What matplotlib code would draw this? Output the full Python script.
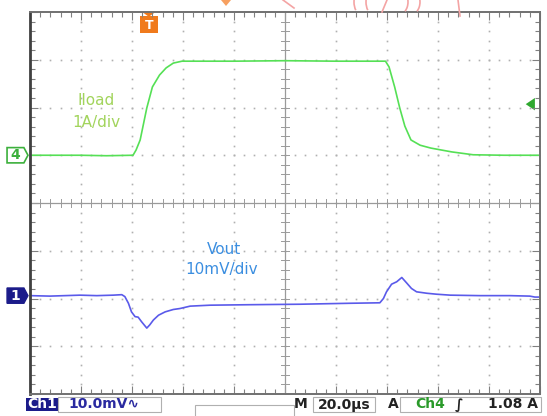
import numpy as np
from matplotlib import pyplot as plt
from matplotlib.patches import Polygon, Rectangle, Arc

# Trace data in screen divisions (x: 0..10 div, y: -4..4 div, centre = 0)
iload_x = [0.0, 0.98, 1.5, 2.02, 2.08, 2.16, 2.29, 2.40, 2.54, 2.67, 2.81, 2.98,
           4.0, 5.0, 6.0, 6.97, 7.04, 7.15, 7.25, 7.35, 7.47, 7.65, 7.86, 8.27,
           8.69, 9.3, 10.0]
iload_y = [1.0, 1.0, 0.99, 1.0, 1.11, 1.32, 1.99, 2.43, 2.68, 2.83, 2.93, 2.97,
           2.97, 2.98, 2.97, 2.97, 2.85, 2.43, 1.99, 1.61, 1.32, 1.21, 1.15, 1.07,
           1.01, 1.0, 1.0]

vout_x = [0.0, 0.39, 0.98, 1.31, 1.63, 1.80, 1.86, 1.93, 1.99, 2.06, 2.12, 2.19,
          2.29, 2.35, 2.42, 2.52, 2.65, 2.81, 2.94, 3.14, 3.53, 4.31, 5.29, 6.27,
          6.86, 6.93, 6.99, 7.09, 7.19, 7.29, 7.39, 7.48, 7.58, 7.78, 7.97, 8.24,
          8.82, 9.41, 9.80, 9.90, 10.0]
vout_y = [-1.94, -1.95, -1.93, -1.94, -1.93, -1.92, -1.96, -2.10, -2.28, -2.38,
          -2.39, -2.49, -2.62, -2.55, -2.45, -2.35, -2.28, -2.23, -2.21, -2.16,
          -2.14, -2.13, -2.12, -2.10, -2.09, -2.00, -1.86, -1.70, -1.65, -1.56,
          -1.68, -1.79, -1.86, -1.89, -1.91, -1.93, -1.94, -1.94, -1.95, -1.97,
          -1.97]

# Status bar strings
ch1_scale = '10.0mV'
time_scale = '20.0\u00b5s'
trig_src = 'Ch4'
trig_level = '1.08 A'

W, H = 547, 416
fig = plt.figure(figsize=(W / 100, H / 100), dpi=100)
fig.patch.set_facecolor('white')
ax = fig.add_axes([30 / W, 1 - 394 / H, 510 / W, 382 / H])
ax.set_xlim(0, 10)
ax.set_ylim(-4, 4)

# dotted graticule
minor = np.round(np.arange(0.2, 10, 0.2), 2)
minor_y = np.round(np.arange(-3.8, 4, 0.2), 2)
for gx in range(1, 10):
    if gx == 5:
        continue
    ax.plot(np.full(len(minor_y), gx), minor_y, ls='', marker='s', ms=1.2, color='#b0b0b0', mew=0)
for gy in range(-3, 4):
    if gy == 0:
        continue
    ax.plot(minor, np.full(len(minor), gy), ls='', marker='s', ms=1.2, color='#b0b0b0', mew=0)

# centre cross with ticks
ax.axhline(0, color='#9a9a9a', lw=0.9)
ax.axvline(5, color='#9a9a9a', lw=0.9)
for t in minor:
    ax.plot([t, t], [-0.08, 0.08], color='#9a9a9a', lw=0.7)
for t in minor_y:
    ax.plot([4.92, 5.08], [t, t], color='#9a9a9a', lw=0.7)

# traces
ax.plot(iload_x, iload_y, color='#55e055', lw=1.2)
ax.plot(vout_x, vout_y, color='#5a5aea', lw=1.2)

# labels
ax.text(1.3, 2.15, 'Iload', color='#a2d45c', fontsize=11, ha='center', va='center')
ax.text(1.3, 1.68, '1A/div', color='#a2d45c', fontsize=11, ha='center', va='center')
ax.text(3.8, -0.97, 'Vout', color='#3b8ee0', fontsize=11, ha='center', va='center')
ax.text(3.75, -1.4, '10mV/div', color='#3b8ee0', fontsize=11, ha='center', va='center')

# frame ticks
ax.set_xticks(range(0, 11))
ax.set_yticks(range(-4, 5))
ax.set_xticks(minor, minor=True)
ax.set_yticks(minor_y, minor=True)
ax.tick_params(which='both', direction='in', top=True, right=True,
               labelbottom=False, labelleft=False, color='#808080', width=0.8)
ax.tick_params(which='major', length=6)
ax.tick_params(which='minor', length=3.5)
for s in ax.spines.values():
    s.set_color('#707070')
    s.set_linewidth(1.4)
ax.spines['left'].set_color('#404040')
ax.spines['left'].set_linewidth(2)

# channel markers on the left
ax.add_patch(Polygon([[-0.45, 0.84], [-0.12, 0.84], [-0.04, 1.0], [-0.12, 1.16], [-0.45, 1.16]],
                     closed=True, fc='white', ec='#3cb03c', lw=1.2, clip_on=False))
ax.text(-0.28, 1.0, '4', color='#3cb03c', fontsize=10, fontweight='bold', ha='center', va='center')
ax.add_patch(Polygon([[-0.45, -1.78], [-0.12, -1.78], [-0.04, -1.94], [-0.12, -2.10], [-0.45, -2.10]],
                     closed=True, fc='#1b1b8a', ec='#1b1b8a', lw=1, clip_on=False))
ax.text(-0.28, -1.94, '1', color='white', fontsize=10, fontweight='bold', ha='center', va='center')

# trigger level arrow on the right
ax.add_patch(Polygon([[9.72, 2.07], [9.9, 2.2], [9.9, 1.94]], closed=True, fc='#2fa82f', ec='none'))

# trigger position marker
ax.add_patch(Rectangle((2.16, 3.55), 0.34, 0.36, fc='#f07a1c', ec='none', clip_on=False))
ax.text(2.33, 3.72, 'T', color='white', fontsize=9, fontweight='bold', ha='center', va='center')
ax.add_patch(Polygon([[2.2, 4.0], [2.46, 4.0], [2.33, 3.9]], closed=True, fc='#f07a1c', ec='none',
                     clip_on=False))


def fx(px):
    return px / W


def fy(py):
    return 1 - py / H


# small orange mark and faint pink strokes above the screen
fig.patches.append(Polygon([[fx(221), fy(0)], [fx(231), fy(0)], [fx(226), fy(6)]], closed=True,
                           transform=fig.transFigure, fc='#f7a060', ec='none'))
pink = '#f4a4a4'
fig.lines.append(plt.Line2D([fx(283), fx(294)], [fy(0), fy(8)], transform=fig.transFigure,
                            color=pink, lw=1.2))
for cx, w, t1, t2 in [(362, 16, 120, 240), (374, 16, 120, 240), (398, 20, -60, 60), (410, 20, -60, 60)]:
    fig.patches.append(Arc((fx(cx), fy(2)), w / W, 26 / H, theta1=t1, theta2=t2,
                           transform=fig.transFigure, color=pink, lw=1.2))
fig.lines.append(plt.Line2D([fx(387), fx(382)], [fy(0), fy(12)], transform=fig.transFigure,
                            color=pink, lw=1.2))
fig.lines.append(plt.Line2D([fx(458), fx(460)], [fy(0), fy(16)], transform=fig.transFigure,
                            color=pink, lw=1.2))

# status bar
fig.patches.append(Rectangle((fx(26), fy(411)), 32 / W, 13 / H, transform=fig.transFigure,
                             fc='#1b1b8a', ec='none'))
fig.text(fx(42), fy(404.5), 'Ch1', color='white', fontsize=10, fontweight='bold', ha='center', va='center')
fig.patches.append(Rectangle((fx(58), fy(412)), 103 / W, 15 / H, transform=fig.transFigure,
                             fc='none', ec='#b0b0b0', lw=0.8))
fig.text(fx(68), fy(404.5), ch1_scale + '\u223f', color='#2a2aa0', fontsize=10, fontweight='bold',
         ha='left', va='center')
fig.text(fx(301), fy(404.5), 'M', color='#222222', fontsize=10, fontweight='bold', ha='center', va='center')
fig.patches.append(Rectangle((fx(313), fy(412)), 62 / W, 15 / H, transform=fig.transFigure,
                             fc='none', ec='#b0b0b0', lw=0.8))
fig.text(fx(344), fy(404.5), time_scale, color='#222222', fontsize=10, fontweight='bold',
         ha='center', va='center')
fig.text(fx(393), fy(404.5), 'A', color='#222222', fontsize=10, fontweight='bold', ha='center', va='center')
fig.patches.append(Rectangle((fx(400), fy(412)), 141 / W, 15 / H, transform=fig.transFigure,
                             fc='none', ec='#b0b0b0', lw=0.8))
fig.text(fx(430), fy(404.5), trig_src, color='#2a9a2a', fontsize=10, fontweight='bold',
         ha='center', va='center')
fig.text(fx(459), fy(404.5), '\u222b', color='#222222', fontsize=10, fontweight='bold',
         ha='center', va='center')
fig.text(fx(538), fy(404.5), trig_level, color='#222222', fontsize=10, fontweight='bold',
         ha='right', va='center')
fig.patches.append(Rectangle((fx(195), fy(420)), 99 / W, 15 / H, transform=fig.transFigure,
                             fc='none', ec='#b0b0b0', lw=0.8))

fig.savefig('out.png', dpi=100)
